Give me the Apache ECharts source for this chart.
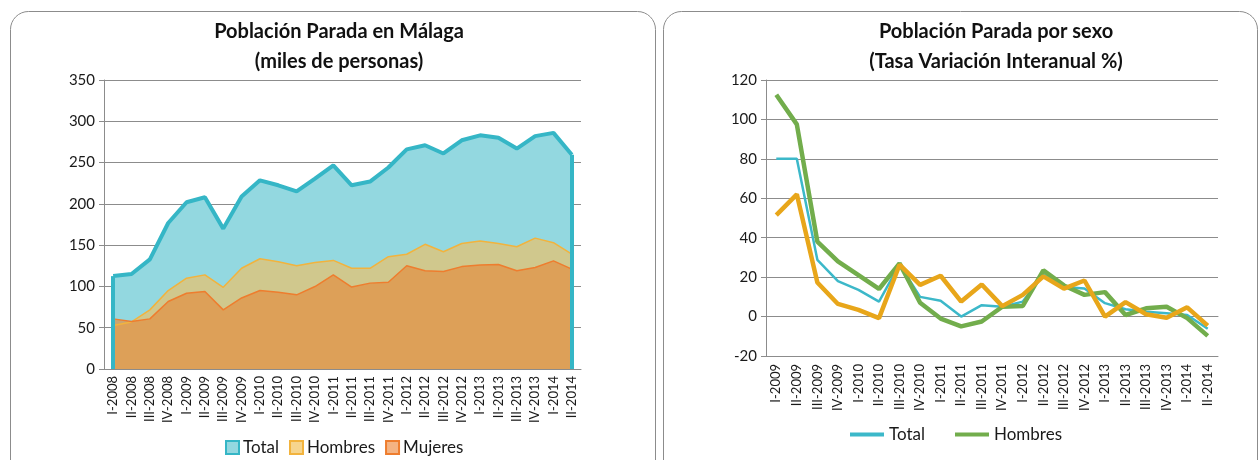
<!DOCTYPE html>
<html>
<head>
<meta charset="utf-8">
<script src="https://cdn.jsdelivr.net/npm/echarts@6/dist/echarts.min.js"></script>
<style>
  html, body { margin: 0; padding: 0; background: #fff; }
  #chart { width: 1260px; height: 460px; }
</style>
</head>
<body>
<div id="chart"></div>
<script>
// left chart: miles de personas
const quarters = ['I-2008', 'II-2008', 'III-2008', 'IV-2008', 'I-2009', 'II-2009', 'III-2009', 'IV-2009',
  'I-2010', 'II-2010', 'III-2010', 'IV-2010', 'I-2011', 'II-2011', 'III-2011', 'IV-2011',
  'I-2012', 'II-2012', 'III-2012', 'IV-2012', 'I-2013', 'II-2013', 'III-2013', 'IV-2013', 'I-2014', 'II-2014']
const total = [112.5, 115, 132.7, 176.8, 202, 208, 170, 209, 228.5, 222.5, 215, 230.5, 246.7, 222.5, 227, 244,
  266, 271, 261, 277, 283, 280, 267, 282, 286, 259.5]
const hombres = [52.6, 57, 71.6, 95, 110, 114, 99, 122, 133.5, 130, 125, 129, 131.5, 122, 122, 136,
  139, 151, 142, 152, 155, 152, 148, 158.5, 153, 139]
const mujeres = [60.7, 57.4, 60.7, 81.7, 91.8, 93.8, 71.6, 86, 95, 93, 89.8, 99.9, 114, 99.3, 104, 105,
  125, 119, 118, 124, 126, 126.5, 119, 123, 131, 121]

// right chart: tasa variacion interanual %
const quartersVar = ['I-2009', 'II-2009', 'III-2009', 'IV-2009', 'I-2010', 'II-2010', 'III-2010', 'IV-2010',
  'I-2011', 'II-2011', 'III-2011', 'IV-2011', 'I-2012', 'II-2012', 'III-2012', 'IV-2012',
  'I-2013', 'II-2013', 'III-2013', 'IV-2013', 'I-2014', 'II-2014']
const totalVar = [80, 80, 28.8, 18, 13.5, 7.6, 26.5, 10, 8, 0, 5.8, 5, 7.6, 21.5, 15, 14.2, 6.8, 3.7, 2.5, 1.7, 0.8, -6.2]
const hombresVar = [112.5, 97.5, 38, 28, 21, 14, 27, 7, -1, -5, -2.5, 5, 5.4, 23.4, 15.8, 11, 12.4, 0.8, 4.2, 5, -0.8, -9.8]
const mujeresVar = [51.5, 62, 17.3, 6.4, 3.4, -0.8, 26.3, 16.1, 20.7, 7.6, 16.3, 5.3, 11, 20.4, 14.2, 18.3, 0, 7.3, 1.2, -0.6, 4.7, -4.6]

const FONT = 'Lato, "Open Sans", sans-serif'
const GRID_COLOR = '#8c8c8c'
const TEAL = '#35b6c6'
const GREEN = '#72ad4c'
const first = quarters[0]
const last = quarters[quarters.length - 1]

const axisText = { color: '#1a1a1a', fontFamily: FONT }
const titleFont = 'bold 20px ' + FONT

const edge = (cat, val, color, width) => [
  { coord: [cat, 0], lineStyle: { color, width, type: 'solid' } },
  { coord: [cat, val] },
]

const chart = echarts.init(document.getElementById('chart'))
chart.setOption({
  animation: false,
  graphic: [
    { type: 'rect', shape: { x: 10.5, y: 11.5, width: 645, height: 470, r: 18 }, style: { fill: 'none', stroke: GRID_COLOR, lineWidth: 1 } },
    { type: 'rect', shape: { x: 663.5, y: 11.5, width: 594, height: 470, r: 18 }, style: { fill: 'none', stroke: GRID_COLOR, lineWidth: 1 } },
    { type: 'text', x: 339, y: 32, style: { text: 'Población Parada en Málaga', textAlign: 'center', textVerticalAlign: 'middle', font: titleFont, fill: '#111' } },
    { type: 'text', x: 339, y: 62, style: { text: '(miles de personas)', textAlign: 'center', textVerticalAlign: 'middle', font: titleFont, fill: '#111' } },
    { type: 'text', x: 996, y: 32, style: { text: 'Población Parada por sexo', textAlign: 'center', textVerticalAlign: 'middle', font: titleFont, fill: '#111' } },
    { type: 'text', x: 996, y: 62, style: { text: '(Tasa Variación Interanual %)', textAlign: 'center', textVerticalAlign: 'middle', font: titleFont, fill: '#111' } },
  ],
  legend: [
    {
      left: 220, top: 434,
      icon: 'rect', itemWidth: 13, itemHeight: 13, itemGap: 10,
      textStyle: { fontFamily: FONT, fontSize: 17, color: '#1a1a1a', padding: [0, 0, 0, -1] },
      data: [
        { name: 'Total', itemStyle: { color: '#93d8e0', borderColor: TEAL, borderWidth: 2 } },
        { name: 'Hombres', itemStyle: { color: '#f6d58e', borderColor: '#f2b33d', borderWidth: 2 } },
        { name: 'Mujeres', itemStyle: { color: '#f4b383', borderColor: '#ee7d2e', borderWidth: 2 } },
      ],
      selectedMode: false,
    },
    {
      left: 845, top: 421,
      icon: 'rect', itemWidth: 34, itemHeight: 4, itemGap: 30,
      textStyle: { fontFamily: FONT, fontSize: 17, color: '#1a1a1a' },
      // only the first two entries are visible in the reference
      data: [
        { name: 'Total', itemStyle: { color: '#3cb8c9' } },
        { name: 'Hombres', itemStyle: { color: GREEN } },
      ],
      selectedMode: false,
    },
  ],
  grid: [
    { left: 104, top: 80, width: 477, height: 289 },
    { left: 766, top: 80, width: 452, height: 276 },
  ],
  xAxis: [
    {
      gridIndex: 0, type: 'category', data: quarters, boundaryGap: true,
      axisLine: { lineStyle: { color: GRID_COLOR } },
      axisTick: { interval: 0, length: 5, lineStyle: { color: GRID_COLOR } },
      axisLabel: { ...axisText, interval: 0, rotate: 90, fontSize: 13, margin: 7 },
    },
    {
      gridIndex: 1, type: 'category', data: quartersVar, boundaryGap: true, position: 'bottom',
      axisLine: { onZero: false, lineStyle: { color: GRID_COLOR } },
      axisTick: { show: false },
      axisLabel: { ...axisText, interval: 0, rotate: 90, fontSize: 13, margin: 8 },
    },
    {
      // axis line through zero with ticks at the category boundaries
      gridIndex: 1, type: 'category', data: quartersVar, boundaryGap: true, position: 'bottom',
      axisLine: { onZero: true, lineStyle: { color: GRID_COLOR } },
      axisTick: { interval: 0, length: 5, lineStyle: { color: GRID_COLOR } },
      axisLabel: { show: false },
    },
    {
      // small ticks at the category centres
      gridIndex: 1, type: 'category', data: quartersVar, boundaryGap: true, position: 'bottom',
      axisLine: { onZero: true, show: false },
      axisTick: { interval: 0, alignWithLabel: true, inside: true, length: 4, lineStyle: { color: GRID_COLOR } },
      axisLabel: { show: false },
    },
  ],
  yAxis: [
    {
      gridIndex: 0, type: 'value', min: 0, max: 350, interval: 50,
      axisLine: { show: true, lineStyle: { color: GRID_COLOR } },
      axisTick: { show: true, length: 5, lineStyle: { color: GRID_COLOR } },
      axisLabel: { ...axisText, fontSize: 15, margin: 9 },
      splitLine: { lineStyle: { color: GRID_COLOR, width: 1 } },
    },
    {
      gridIndex: 1, type: 'value', min: -20, max: 120, interval: 20,
      axisLine: { show: true, lineStyle: { color: GRID_COLOR } },
      axisTick: { show: true, length: 5, lineStyle: { color: GRID_COLOR } },
      axisLabel: { ...axisText, fontSize: 15, margin: 9 },
      splitLine: { lineStyle: { color: GRID_COLOR, width: 1 } },
    },
  ],
  series: [
    {
      name: 'Total', type: 'line', xAxisIndex: 0, yAxisIndex: 0, data: total,
      symbol: 'none', color: TEAL,
      lineStyle: { color: TEAL, width: 4 },
      areaStyle: { color: '#93d8e0', opacity: 1 },
    },
    {
      name: 'Hombres', type: 'line', xAxisIndex: 0, yAxisIndex: 0, data: hombres,
      symbol: 'none', color: '#f2b33d',
      lineStyle: { color: '#f2b33d', width: 1.5 },
      areaStyle: { color: 'rgba(249,190,85,0.6)', opacity: 1 },
    },
    {
      name: 'Mujeres', type: 'line', xAxisIndex: 0, yAxisIndex: 0, data: mujeres,
      symbol: 'none', color: '#ee7d2e',
      lineStyle: { color: '#ee7d2e', width: 1.5 },
      areaStyle: { color: 'rgba(226,142,65,0.7)', opacity: 1 },
      // vertical edges of the areas, as in the original spreadsheet chart
      markLine: {
        silent: true, symbol: 'none', label: { show: false },
        data: [
          edge(first, mujeres[0], '#ee7d2e', 1.5),
          edge(last, mujeres[mujeres.length - 1], '#ee7d2e', 1.5),
          edge(first, total[0], TEAL, 4),
          edge(last, total[total.length - 1], TEAL, 4),
        ],
      },
    },
    {
      name: 'Total', type: 'line', xAxisIndex: 1, yAxisIndex: 1, data: totalVar,
      symbol: 'none', color: '#3cb8c9',
      lineStyle: { color: '#3cb8c9', width: 2.5 },
    },
    {
      name: 'Hombres', type: 'line', xAxisIndex: 1, yAxisIndex: 1, data: hombresVar,
      symbol: 'none', color: GREEN,
      lineStyle: { color: GREEN, width: 4.5 },
    },
    {
      name: 'Mujeres', type: 'line', xAxisIndex: 1, yAxisIndex: 1, data: mujeresVar,
      symbol: 'none', color: '#e8a61a',
      lineStyle: { color: '#e8a61a', width: 4.5 },
    },
  ],
})
</script>
</body>
</html>
